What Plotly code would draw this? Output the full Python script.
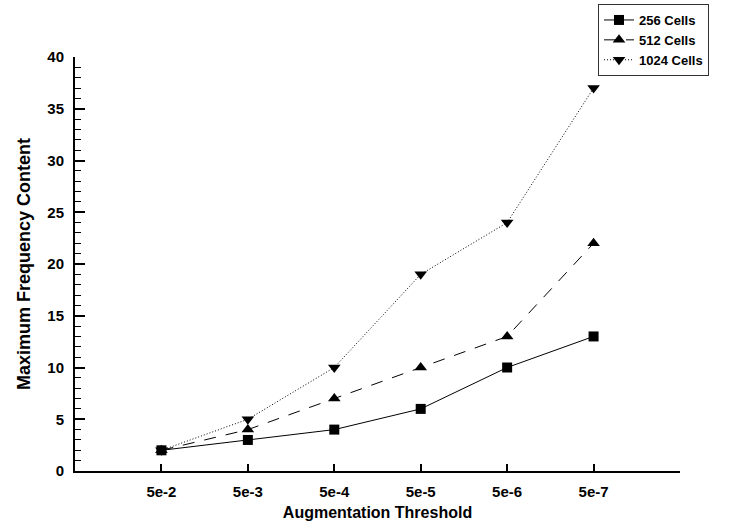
import plotly.graph_objects as go

categories = ["5e-2", "5e-3", "5e-4", "5e-5", "5e-6", "5e-7"]
cells_256 = [2, 3, 4, 6, 10, 13]
cells_512 = [2, 4, 7, 10, 13, 22]
cells_1024 = [2, 5, 10, 19, 24, 37]
series_names = ["256 Cells", "512 Cells", "1024 Cells"]

xpos = list(range(1, len(categories) + 1))
FONT = "Liberation Sans, Arial, sans-serif"

fig = go.Figure()
fig.add_trace(go.Scatter(x=xpos, y=cells_256, name=series_names[0], mode="lines+markers",
                         line=dict(color="black", width=1, dash="solid"),
                         marker=dict(symbol="square", size=10, color="black")))
fig.add_trace(go.Scatter(x=xpos, y=cells_512, name=series_names[1], mode="lines+markers",
                         line=dict(color="black", width=1, dash="12px,10px"),
                         marker=dict(symbol="triangle-up", size=11, color="black")))
fig.add_trace(go.Scatter(x=xpos, y=cells_1024, name=series_names[2], mode="lines+markers",
                         line=dict(color="black", width=1, dash="1px,2px"),
                         marker=dict(symbol="triangle-down", size=11, color="black")))

fig.update_layout(
    width=755, height=530,
    margin=dict(l=75, r=75, t=57, b=59, autoexpand=False),
    paper_bgcolor="white", plot_bgcolor="white",
    font=dict(family=FONT, color="black"),
    showlegend=True,
    legend=dict(x=0.8645, y=1.128, xanchor="left", yanchor="top",
                bordercolor="#333", borderwidth=1, bgcolor="white",
                font=dict(family=FONT, size=13, color="black", weight="bold"),
                tracegroupgap=0, itemwidth=30),
    xaxis=dict(range=[0, 7], tickmode="array", tickvals=list(range(1, 8)),
               ticktext=categories + [""], ticks="inside", ticklen=7, tickwidth=2,
               tickcolor="black", showline=True, linecolor="black", linewidth=2,
               showgrid=False, zeroline=False, ticklabelstandoff=6,
               tickfont=dict(family=FONT, size=15, weight="bold"),
               title=dict(text="Augmentation Threshold", standoff=8,
                          font=dict(family=FONT, size=16, weight="bold"))),
    yaxis=dict(range=[0, 40], tick0=0, dtick=5, ticks="inside", ticklen=10, tickwidth=2,
               tickcolor="black", showline=True, linecolor="black", linewidth=2,
               showgrid=False, zeroline=False, ticklabelstandoff=6,
               minor=dict(dtick=1, ticks="inside", ticklen=6, tickwidth=1, tickcolor="black", showgrid=False),
               tickfont=dict(family=FONT, size=15, weight="bold"),
               title=dict(text="Maximum Frequency Content", standoff=12,
                          font=dict(family=FONT, size=18, weight="bold"))),
)

fig.write_html("out.html")
